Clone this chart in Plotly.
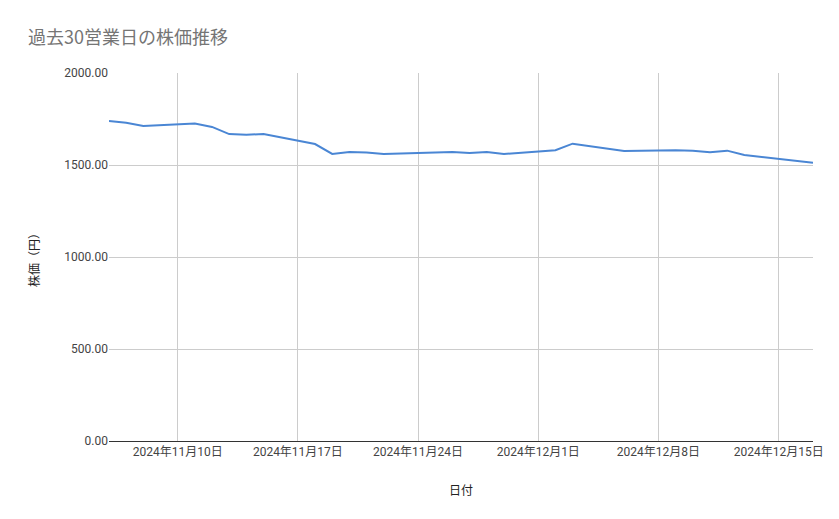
import plotly.graph_objects as go

# 日付と株価
dates = ["2024-11-06", "2024-11-07", "2024-11-08", "2024-11-11", "2024-11-12",
         "2024-11-13", "2024-11-14", "2024-11-15", "2024-11-18", "2024-11-19",
         "2024-11-20", "2024-11-21", "2024-11-22", "2024-11-25", "2024-11-26",
         "2024-11-27", "2024-11-28", "2024-11-29", "2024-12-02", "2024-12-03",
         "2024-12-04", "2024-12-05", "2024-12-06", "2024-12-09", "2024-12-10",
         "2024-12-11", "2024-12-12", "2024-12-13", "2024-12-16", "2024-12-17"]
prices = [1739, 1730, 1712, 1725, 1707, 1668, 1665, 1668, 1614, 1560,
          1571, 1568, 1560, 1568, 1571, 1565, 1571, 1560, 1580, 1616,
          1602, 1590, 1576, 1580, 1578, 1569, 1578, 1554, 1524, 1512]

tick_vals = ["2024-11-10", "2024-11-17", "2024-11-24", "2024-12-01", "2024-12-08", "2024-12-15"]
tick_text = ["2024年11月10日", "2024年11月17日", "2024年11月24日",
             "2024年12月1日", "2024年12月8日", "2024年12月15日"]

fig = go.Figure()
fig.add_trace(go.Scatter(x=dates, y=prices, mode="lines",
                         line=dict(color="#4a86d4", width=2)))

fig.update_layout(
    width=831, height=511,
    font=dict(family="Roboto, Noto Sans CJK JP", size=12, color="#222"),
    title=dict(text="過去30営業日の株価推移", x=0.024, y=0.955, xanchor="left",
               font=dict(family="Noto Sans CJK JP", size=18, color="#757575")),
    plot_bgcolor="white", paper_bgcolor="white",
    margin=dict(l=101, r=26, t=65, b=78),
    showlegend=False,
)
fig.update_xaxes(range=["2024-11-06", "2024-12-17"], tickvals=tick_vals, ticktext=tick_text,
                 showgrid=True, gridcolor="#cccccc", showline=True, linecolor="#333",
                 title=dict(text="日付", font=dict(size=12), standoff=28),
                 tickfont=dict(size=12, color="#444"))
fig.update_yaxes(range=[0, 2000], dtick=500, tickformat=".2f",
                 showgrid=True, gridcolor="#cccccc", zeroline=False,
                 title=dict(text="株価（円）", font=dict(size=12), standoff=22),
                 tickfont=dict(size=12, color="#444"))

fig.write_html("out.html")
